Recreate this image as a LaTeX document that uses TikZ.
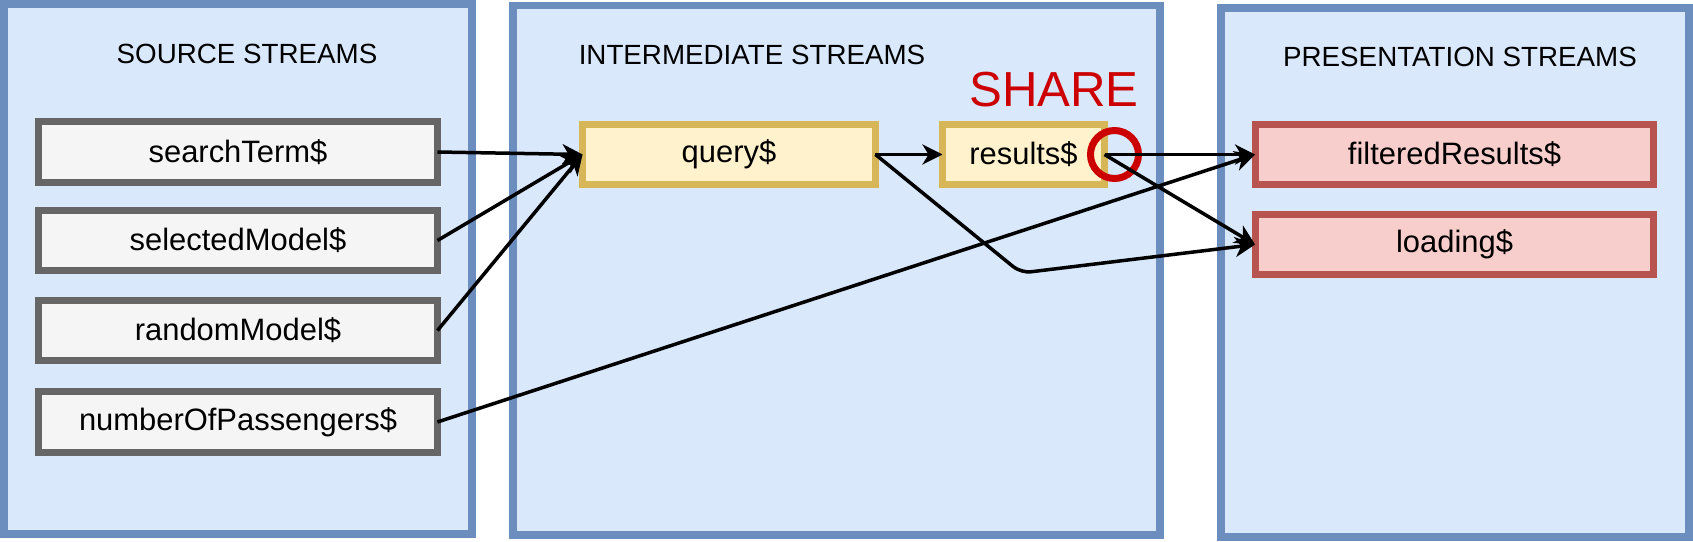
\documentclass[tikz,border=0pt]{standalone}
\usepackage{fontspec}
\setmainfont{Liberation Sans}
\usepackage{xcolor}
\definecolor{panelfill}{HTML}{DAE8FC}
\definecolor{paneldraw}{HTML}{6C8EBF}
\definecolor{sourcefill}{HTML}{F5F5F5}
\definecolor{sourcedraw}{HTML}{666666}
\definecolor{interfill}{HTML}{FFF2CC}
\definecolor{interdraw}{HTML}{D6B656}
\definecolor{presfill}{HTML}{F8CECC}
\definecolor{presdraw}{HTML}{B85450}
\definecolor{sharered}{HTML}{CC0000}
\usetikzlibrary{arrows.meta}
\newcommand{\widthstream}{7.98cm}
\newcommand{\heightstream}{1.22cm}
\tikzset{
    panel/.style={draw=paneldraw, fill=panelfill, line width=0.16cm},
    title/.style={font=\fontsize{15.8}{18}\selectfont},
    common/.style={draw, rectangle, line width=0.14cm, outer sep=0pt, inner sep=0pt, minimum height=\heightstream, font=\fontsize{17.6}{20}\selectfont},
    source/.style={common, draw=sourcedraw, fill=sourcefill, minimum width=\widthstream},
    inter/.style={common, draw=interdraw, fill=interfill},
    present/.style={common, draw=presdraw, fill=presfill, minimum width=\widthstream},
    flow/.style={-{Stealth[length=0.4cm, width=0.4cm, inset=0.12cm]}, line width=0.07cm}
}

\begin{document}
\begin{tikzpicture}[x=0.02cm, y=-0.02cm]
        \useasboundingbox (0,0) rectangle (1693,541);

        % the three columns
        \draw[panel] (4,4) rectangle (471.5,534);
        \draw[panel] (513,5.5) rectangle (1160,535);
        \draw[panel] (1221,8) rectangle (1689,537);

        \node[title] (sourcetitle) at (247,54) {SOURCE STREAMS};
        \node[title] (intertitle) at (752,55) {INTERMEDIATE STREAMS};
        \node[title] (prestitle) at (1460,57) {PRESENTATION STREAMS};

        \path
            (238,152) node[source] (searchTerm) {searchTerm\$}
            ++(0,88.5) node[source] (selectedModel) {selectedModel\$}
            ++(0,90) node[source] (randomModel) {randomModel\$}
            ++(0,91.5) node[source] (numberOfPassengers) {numberOfPassengers\$};

        \path
            (729,154.5) node[inter, minimum width=5.86cm] (query) {query\$}
            ++(294.5,0) node[inter, minimum width=3.24cm] (results) {results\$};

        \path
            (1454.5,154.5) node[present] (filteredResults) {filteredResults\$}
            ++(0,90) node[present] (loading) {loading\$};

        \node[text=sharered, font=\fontsize{28}{30}\selectfont] (share) at (1054,90) {SHARE};
        \node[circle, draw=sharered, line width=0.14cm, minimum size=0.96cm, inner sep=0pt] (sharemark) at ([xshift=0.2cm]results.east) {};

        \coordinate (bend) at (1021,273);

        \path
          (searchTerm.east) edge[flow] (query.west)
          (selectedModel.east) edge[flow] (query.west)
          (randomModel.east) edge[flow] (query.west)
          (numberOfPassengers.east) edge[flow] (filteredResults.west)
          (query.east) edge[flow] (results.west)
          (results.east) edge[flow] (filteredResults.west)
          (results.east) edge[flow] (loading.west);

        \draw[flow, rounded corners=0.2cm] (query.east) -- (bend) -- (loading.west);

    \end{tikzpicture}
\end{document}
